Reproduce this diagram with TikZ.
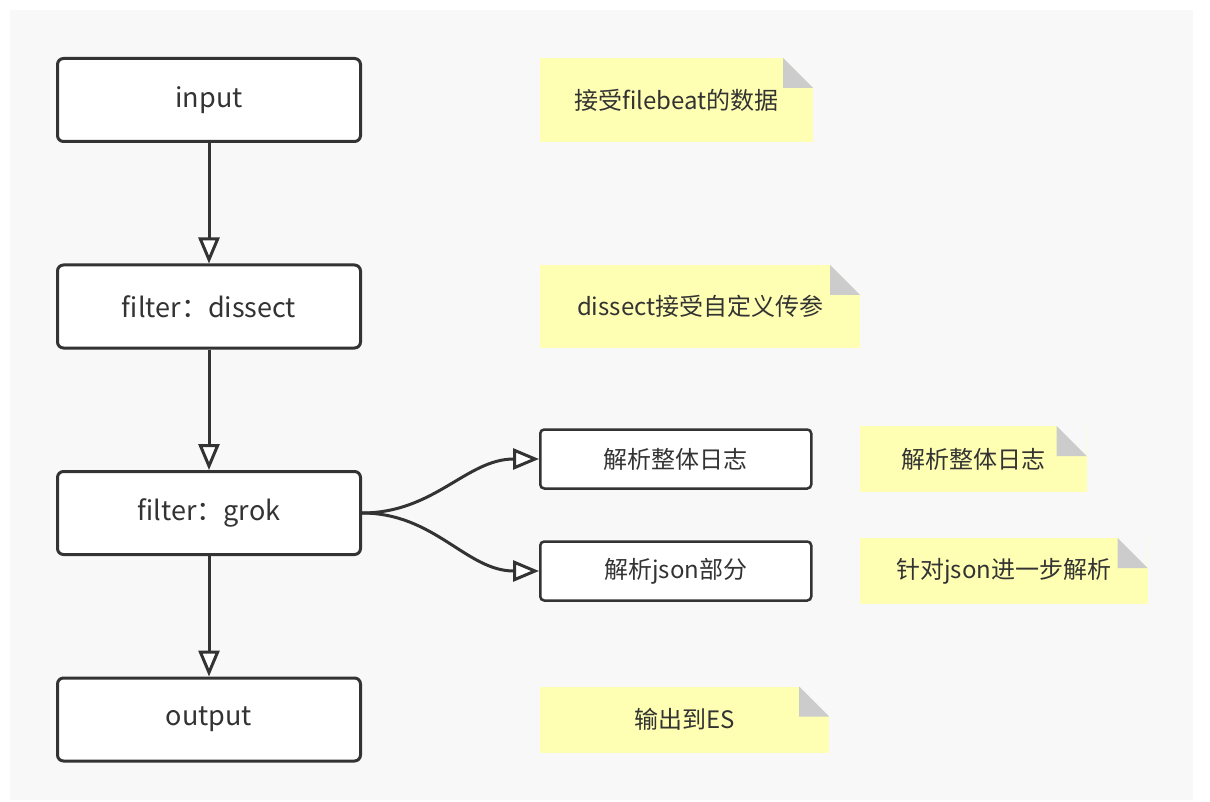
\documentclass[tikz,border=0pt]{standalone}
\usepackage{fontspec}
\setmainfont{Noto Sans CJK SC}
\usetikzlibrary{arrows.meta, positioning}

\definecolor{bgcol}{HTML}{F8F8F8}
\definecolor{linecol}{HTML}{333333}
\definecolor{notecol}{HTML}{FFFFB3}
\definecolor{foldcol}{HTML}{CCCCCC}

\begin{document}
\begin{tikzpicture}[x=1pt, y=-1pt,
node distance = 120.5pt and 177pt,
every node/.style = {text=linecol, font=\fontsize{24}{28}\selectfont},
stage/.style = {draw=linecol, fill=white, line width=3pt, rounded corners=6pt,
                minimum width=303pt, minimum height=83pt,
                font=\fontsize{27}{32}\selectfont},
part/.style  = {draw=linecol, fill=white, line width=2.5pt, rounded corners=4pt,
                minimum width=271pt, minimum height=59pt},
memo/.style  = {fill=notecol, minimum height=66pt, inner sep=0pt,
                path picture={
                  \fill[bgcol] ([xshift=-30pt]path picture bounding box.north east)
                    -- (path picture bounding box.north east)
                    -- ([yshift=-30pt]path picture bounding box.north east) -- cycle;
                  \fill[foldcol] ([xshift=-30pt]path picture bounding box.north east)
                    -- ([xshift=-30pt,yshift=-30pt]path picture bounding box.north east)
                    -- ([yshift=-30pt]path picture bounding box.north east) -- cycle;}},
flow/.style  = {draw=linecol, line width=3pt,
                -{Triangle[open, length=26pt, width=21pt, fill=white]}},
                    ]
%---
\useasboundingbox (0,0) rectangle (1210,802);
\fill[bgcol] (10,10) rectangle (1193,800);

\node (input) [stage] at (209,100) {input};
\node (dissect) [stage, below=of input] {filter：dissect};
\node (grok) [stage, below=of dissect] {filter：grok};
\node (output) [stage, below=of grok] {output};

\node (log) [part, right=of grok, yshift=54pt] {解析整体日志};
\node (json) [part, right=of grok, yshift=-58pt] {解析json部分};

\node (m_input) [memo, right=178pt of input, minimum width=273pt, minimum height=84pt] {接受filebeat的数据};
\node (m_dissect) [memo, right=178pt of dissect, minimum width=320pt, minimum height=83pt] {dissect接受自定义传参};
\node (m_log) [memo, right=47pt of log, minimum width=227pt] {解析整体日志};
\node (m_json) [memo, right=47pt of json, minimum width=288pt] {针对json进一步解析};
\node (m_output) [memo, right=178pt of output, minimum width=289pt] {输出到ES};

\path
        (input) edge[flow] (dissect)
        (dissect) edge[flow] (grok)
        (grok) edge[flow] (output);
\path
        (grok.east) edge[flow, out=0, in=180] (log.west)
        (grok.east) edge[flow, out=0, in=180] (json.west);

\end{tikzpicture}
\end{document}
